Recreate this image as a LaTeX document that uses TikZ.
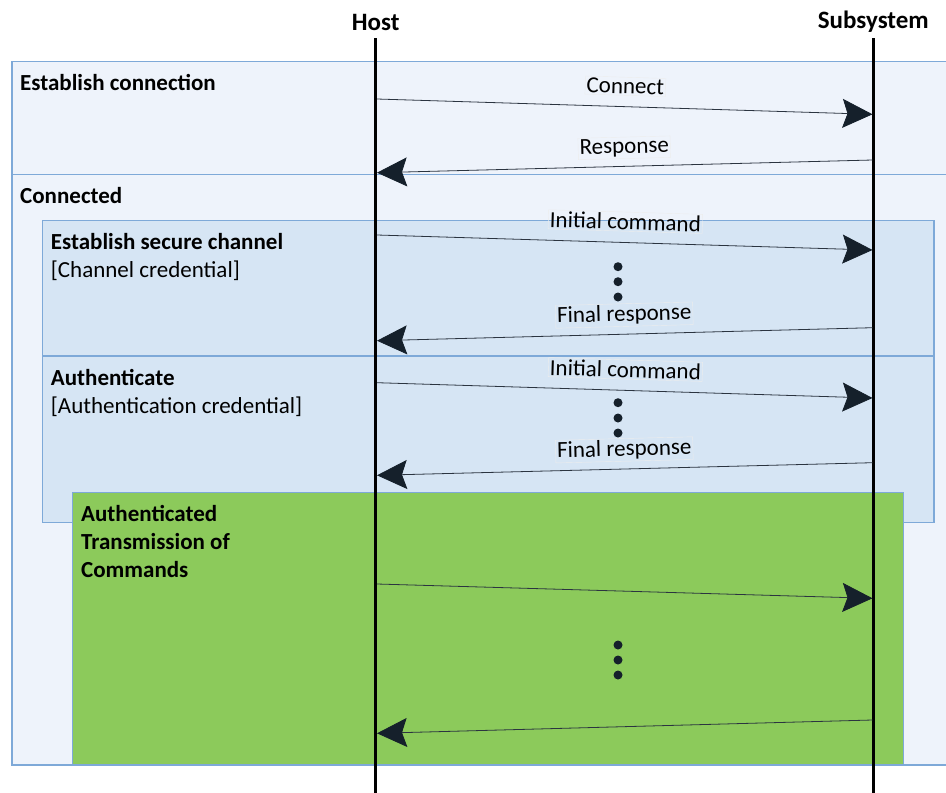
\documentclass[tikz,border=0pt]{standalone}
\usepackage{fontspec}
\setmainfont{Carlito}
\usetikzlibrary{arrows.meta}

\definecolor{outerfill}{HTML}{EEF3FB}
\definecolor{innerfill}{HTML}{D6E5F4}
\definecolor{greenfill}{HTML}{8CCA5B}
\definecolor{boxline}{HTML}{7EA9D8}
\definecolor{tipcol}{HTML}{15202B}
\definecolor{msgline}{HTML}{2B3440}

\tikzset{msgtip/.tip={Stealth[length=30pt, width=29pt, inset=5pt, color=tipcol]}}

\begin{document}
\begin{tikzpicture}[x=1pt,y=-1pt,
  frame/.style={draw=boxline, line width=1.1pt},
  lifeline/.style={line width=2.6pt, draw=black},
  head/.style={anchor=base, inner sep=0pt, font=\fontsize{25}{30}\selectfont\bfseries},
  title/.style={anchor=base west, inner sep=0pt, font=\fontsize{23}{28}\selectfont\bfseries},
  note/.style={anchor=base west, inner sep=0pt, font=\fontsize{23}{28}\selectfont},
  msglabel/.style={sloped, anchor=base, yshift=13pt, inner sep=1.5pt,
    draw=black!7, line width=0.4pt, font=\fontsize{23}{28}\selectfont},
  msg/.style={draw=msgline, line width=0.8pt, -{msgtip}},
  msgback/.style={draw=msgline, line width=0.8pt, {msgtip}-},
  dot/.style={circle, fill=tipcol, inner sep=0pt, minimum size=9pt}]

\useasboundingbox (0,0) rectangle (946,793);

% phase frames
\draw[frame, fill=outerfill] (12,61.7) rectangle (950,174.3);
\draw[frame, fill=outerfill] (12,174.3) rectangle (950,765);
\draw[frame, fill=innerfill] (42.3,220.7) rectangle (934,356);
\draw[frame, fill=innerfill] (42.3,356) rectangle (934,522.7);
\draw[frame, fill=greenfill] (72.7,492.7) rectangle (903.7,765);

% frame titles
\node[title] (tEst) at (20,90) {Establish connection};
\node[title] (tCon) at (20,203) {Connected};
\node[title] (tSec) at (50.7,249) {Establish secure channel};
\node[note]  (nSec) at (50.7,277.5) {[Channel credential]};
\node[title] (tAut) at (50.7,385) {Authenticate};
\node[note]  (nAut) at (50.7,413.5) {[Authentication credential]};
\node[title] (tTr1) at (81,521) {Authenticated};
\node[title] (tTr2) at (81,549) {Transmission of};
\node[title] (tTr3) at (81,577) {Commands};

% participants and lifelines
\node[head] (host) at (375.7,30.5) {Host};
\node[head] (sub) at (873.3,28.5) {Subsystem};
\coordinate (hostTop) at (375.7,38);
\coordinate (hostBot) at (375.7,800);
\coordinate (subTop) at (873.3,38);
\coordinate (subBot) at (873.3,800);
\draw[lifeline] (hostTop) -- (hostBot);
\draw[lifeline] (subTop) -- (subBot);

% message end points on the lifelines
\coordinate (h1) at (377,99);    \coordinate (s1) at (872.5,114.3);
\coordinate (h2) at (377,172.7); \coordinate (s2) at (872.5,160);
\coordinate (h3) at (377,235);   \coordinate (s3) at (872.5,250);
\coordinate (h4) at (377,340.7); \coordinate (s4) at (872.5,327.7);
\coordinate (h5) at (377,382.7); \coordinate (s5) at (872.5,398);
\coordinate (h6) at (377,475.3); \coordinate (s6) at (872.5,462.7);
\coordinate (h7) at (377,584);   \coordinate (s7) at (872.5,598.3);
\coordinate (h8) at (377,733.3); \coordinate (s8) at (872.5,720);

% messages
\draw[msg]     (h1) -- node[msglabel] (lConnect) {Connect} (s1);
\draw[msgback] (h2) -- node[msglabel] (lResp) {Response} (s2);
\draw[msg]     (h3) -- node[msglabel] (lInit1) {Initial command} (s3);
\draw[msgback] (h4) -- node[msglabel] (lFin1) {Final response} (s4);
\draw[msg]     (h5) -- node[msglabel] (lInit2) {Initial command} (s5);
\draw[msgback] (h6) -- node[msglabel] (lFin2) {Final response} (s6);
\draw[msg]     (h7) -- (s7);
\draw[msgback] (h8) -- (s8);

% ellipses between exchanges
\foreach \y [count=\i] in {266.7,281.7,297} \node[dot] (da\i) at (618,\y) {};
\foreach \y [count=\i] in {402.7,418,433} \node[dot] (db\i) at (618,\y) {};
\foreach \y [count=\i] in {645,660,675} \node[dot] (dc\i) at (618,\y) {};

\end{tikzpicture}
\end{document}
